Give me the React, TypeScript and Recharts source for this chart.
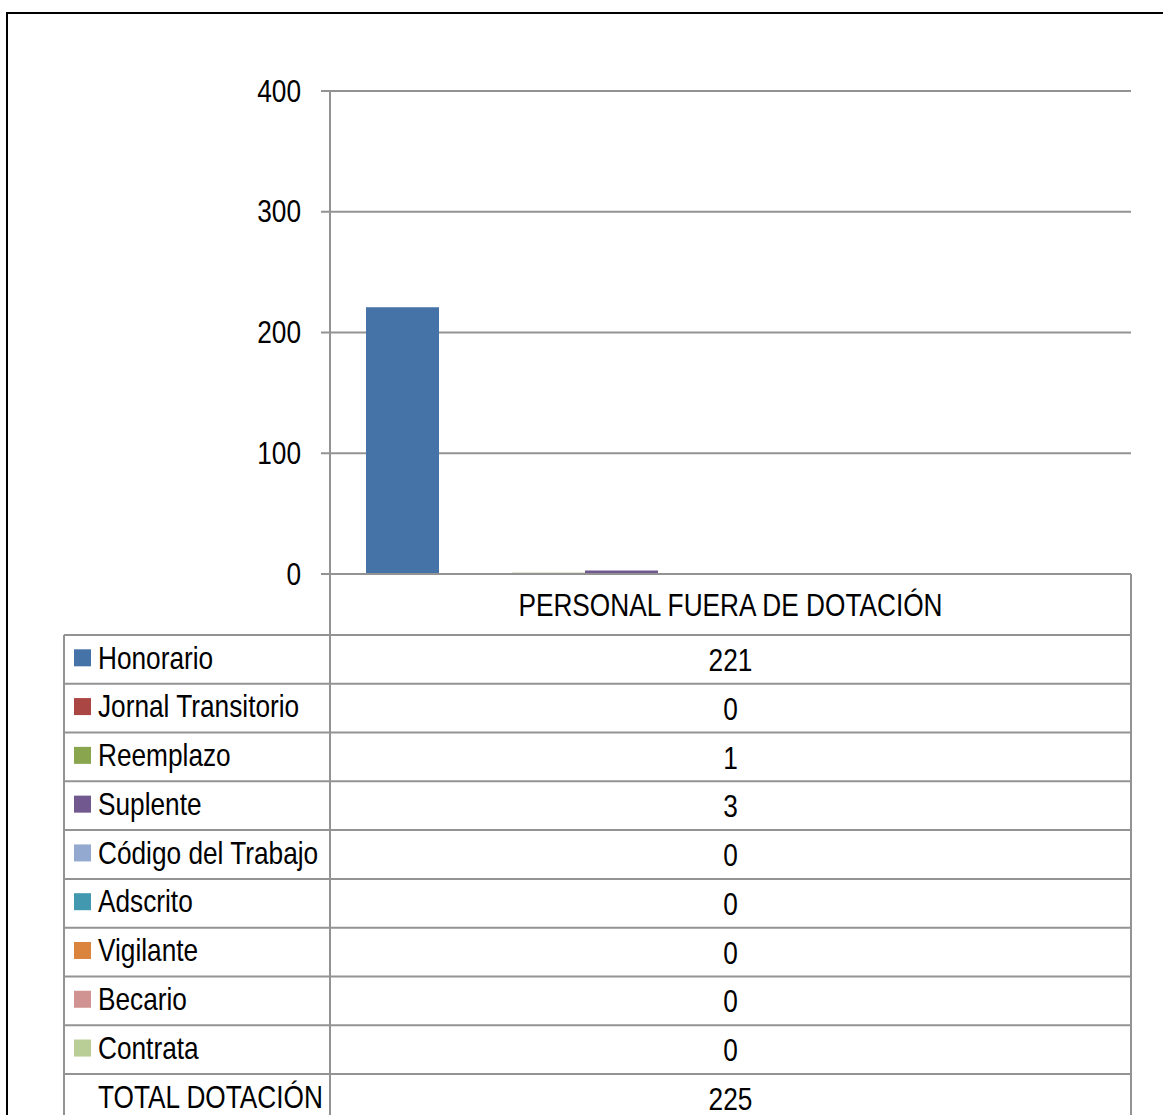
import React from "react";
import { BarChart, Bar, XAxis, YAxis, CartesianGrid } from "recharts";

const category = "PERSONAL FUERA DE DOTACIÓN";
const seriesNames = [
  "Honorario",
  "Jornal Transitorio",
  "Reemplazo",
  "Suplente",
  "Código del Trabajo",
  "Adscrito",
  "Vigilante",
  "Becario",
  "Contrata",
];
const seriesValues = [221, 0, 1, 3, 0, 0, 0, 0, 0];
const seriesColors = [
  "#4572A7",
  "#AA4643",
  "#89A54E",
  "#71588F",
  "#93A9CF",
  "#4198AF",
  "#DB843D",
  "#D19392",
  "#B9CD96",
];
const totalName = "TOTAL DOTACIÓN";
const totalValue = 225;
const yTicks = [0, 100, 200, 300, 400];

const FONT = "'Liberation Sans', Arial, sans-serif";
const GRID = "#939393";
const SX = 0.82;

const row: Record<string, any> = { cat: category };
seriesNames.forEach((n, i) => (row[n] = seriesValues[i]));
row[totalName] = totalValue;
const data = [row];

const NText = ({ x, y, anchor, children }: any) => (
  <text
    transform={`translate(${x},${y}) scale(${SX},1)`}
    x={0}
    y={0}
    textAnchor={anchor || "start"}
    fontFamily={FONT}
    fontSize={32}
    fill="#000"
  >
    {children}
  </text>
);

const YTick = (props: any) => {
  const { x, y, payload } = props;
  return (
    <NText x={x} y={y + 10.5} anchor="end">
      {payload.value}
    </NText>
  );
};

const XTick = (props: any) => {
  const { x, y, payload } = props;
  return (
    <NText x={x} y={y + 42} anchor="middle">
      {payload.value}
    </NText>
  );
};

// table layout
const tLeft = 64;
const tMid = 330;
const tRight = 1131;
const tTop = 635;
const rowH = 48.78;

export default function App() {
  const allNames = [...seriesNames, totalName];
  const allValues = [...seriesValues, totalValue];
  const nRows = allNames.length;
  return (
    <div
      style={{
        position: "absolute",
        left: 0,
        top: 0,
        width: 1163,
        height: 1115,
        overflow: "hidden",
        background: "#fff",
      }}
    >
      <div
        style={{
          position: "absolute",
          left: 6,
          top: 12,
          width: 1300,
          height: 1300,
          border: "2px solid #000",
          boxSizing: "border-box",
        }}
      />
      <div style={{ position: "absolute", left: 0, top: 0 }}>
        <BarChart
          width={1163}
          height={636}
          data={data}
          margin={{ top: 91, right: 32, left: 0, bottom: 0 }}
          barCategoryGap={36}
          barGap={0}
        >
          <CartesianGrid vertical={false} stroke={GRID} strokeWidth={2} />
          <XAxis
            dataKey="cat"
            height={62}
            tickLine={false}
            tickSize={0}
            tickMargin={0}
            axisLine={{ stroke: GRID, strokeWidth: 2 }}
            tick={<XTick />}
            interval={0}
          />
          <YAxis
            width={330}
            domain={[0, 400]}
            ticks={yTicks}
            interval={0}
            tickSize={9}
            tickMargin={20}
            tickLine={{ stroke: GRID, strokeWidth: 2 }}
            axisLine={{ stroke: GRID, strokeWidth: 2 }}
            tick={<YTick />}
          />
          {seriesNames.map((n, i) => (
            <Bar key={n} dataKey={n} fill={seriesColors[i]} isAnimationActive={false} />
          ))}
          <Bar dataKey={totalName} fill="none" isAnimationActive={false} />
        </BarChart>
      </div>
      <svg
        width={1163}
        height={1115}
        style={{ position: "absolute", left: 0, top: 0, pointerEvents: "none" }}
      >
        <line x1={tMid} y1={574} x2={tMid} y2={1115} stroke={GRID} strokeWidth={2} />
        <line x1={tRight} y1={574} x2={tRight} y2={1115} stroke={GRID} strokeWidth={2} />
        <line x1={tLeft} y1={tTop} x2={tLeft} y2={1115} stroke={GRID} strokeWidth={2} />
        {Array.from({ length: nRows + 1 }).map((_, i) => (
          <line
            key={"h" + i}
            x1={tLeft}
            x2={tRight}
            y1={tTop + i * rowH}
            y2={tTop + i * rowH}
            stroke={GRID}
            strokeWidth={2}
          />
        ))}
        {allNames.map((n, i) => {
          const top = tTop + i * rowH;
          const hasKey = i < seriesNames.length;
          return (
            <g key={n}>
              {hasKey && (
                <rect x={74} y={top + 14.3} width={17} height={17} fill={seriesColors[i]} />
              )}
              <NText x={98} y={top + 33.5}>
                {n}
              </NText>
              <NText x={(tMid + tRight) / 2} y={top + 36} anchor="middle">
                {allValues[i]}
              </NText>
            </g>
          );
        })}
      </svg>
    </div>
  );
}
